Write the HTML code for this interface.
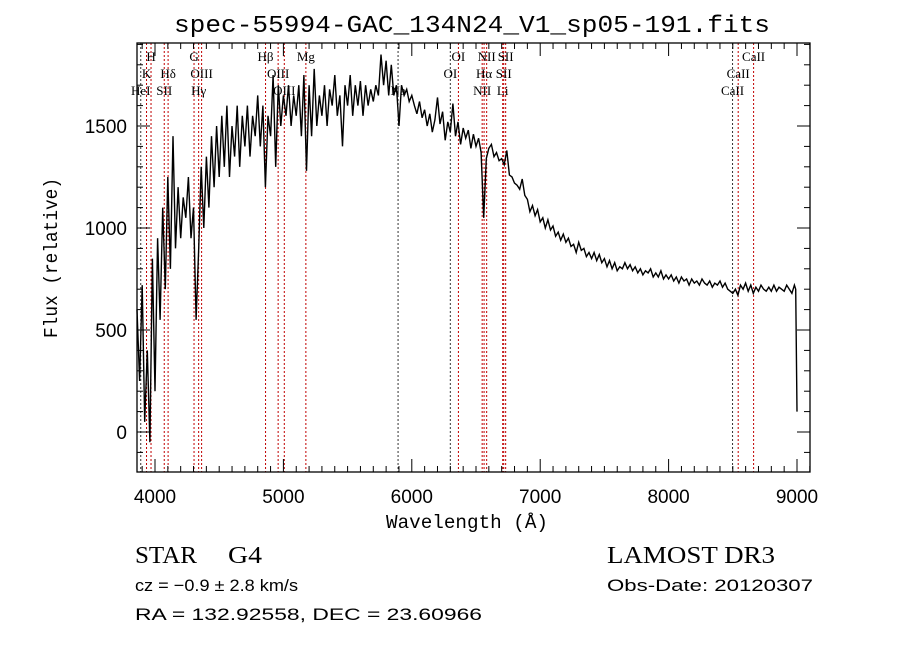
<!DOCTYPE html>
<html><head><meta charset="utf-8"><style>
html,body{margin:0;padding:0;background:#fff;width:900px;height:649px;overflow:hidden}
svg{display:block}
text{fill:#000}
.sans{font-family:"Liberation Sans",sans-serif}
.serif{font-family:"Liberation Serif",serif}
.mono{font-family:"Liberation Mono",monospace}
.lab{font-family:"Liberation Serif",serif;font-size:13px}
</style></head><body>
<svg id="chart" width="900" height="649" viewBox="0 0 900 649">
<text class="mono" x="472" y="32" font-size="24" text-anchor="middle" textLength="596" lengthAdjust="spacingAndGlyphs">spec-55994-GAC_134N24_V1_sp05-191.fits</text>
<g id="lines"></g>
<g id="labels"></g>
<g id="axes"></g>
<path id="spec" fill="none" stroke="#000" stroke-width="1.4" stroke-linejoin="miter"/>
<text class="mono" x="467" y="528" font-size="19" text-anchor="middle" textLength="162" lengthAdjust="spacingAndGlyphs">Wavelength (Å)</text>
<text class="mono" transform="translate(57,258) rotate(-90)" font-size="19" text-anchor="middle" textLength="160" lengthAdjust="spacingAndGlyphs">Flux (relative)</text>
<text class="serif" x="135" y="563" font-size="24" textLength="62" lengthAdjust="spacingAndGlyphs">STAR</text>
<text class="serif" x="228" y="563" font-size="24" textLength="34" lengthAdjust="spacingAndGlyphs">G4</text>
<text class="serif" x="607" y="563" font-size="24" textLength="168" lengthAdjust="spacingAndGlyphs">LAMOST DR3</text>
<text class="sans" x="135" y="591" font-size="17" textLength="163" lengthAdjust="spacingAndGlyphs">cz = −0.9 ± 2.8 km/s</text>
<text class="sans" x="607" y="591" font-size="17" textLength="206" lengthAdjust="spacingAndGlyphs">Obs-Date: 20120307</text>
<text class="sans" x="135" y="620" font-size="17" textLength="347" lengthAdjust="spacingAndGlyphs">RA = 132.92558, DEC =  23.60966</text>
</svg>
<script>
const wavelengths=[3860,3880,3900,3920,3940,3960,3980,4000,4020,4040,4060,4080,4100,4120,4140,4160,4180,4200,4220,4240,4260,4280,4300,4320,4340,4360,4380,4400,4420,4440,4460,4480,4500,4520,4540,4560,4580,4600,4620,4640,4660,4680,4700,4720,4740,4760,4780,4800,4820,4840,4860,4880,4900,4920,4940,4960,4980,5000,5020,5040,5060,5080,5100,5120,5140,5160,5180,5200,5220,5240,5260,5280,5300,5320,5340,5360,5380,5400,5420,5440,5460,5480,5500,5520,5540,5560,5580,5600,5620,5640,5660,5680,5700,5720,5740,5760,5780,5800,5820,5840,5860,5880,5900,5920,5940,5960,5980,6000,6020,6040,6060,6080,6100,6120,6140,6160,6180,6200,6220,6240,6260,6280,6300,6320,6340,6360,6380,6400,6420,6440,6460,6480,6500,6520,6540,6560,6580,6600,6620,6640,6660,6680,6700,6720,6740,6760,6780,6800,6820,6840,6860,6880,6900,6920,6940,6960,6980,7000,7020,7040,7060,7080,7100,7120,7140,7160,7180,7200,7220,7240,7260,7280,7300,7320,7340,7360,7380,7400,7420,7440,7460,7480,7500,7520,7540,7560,7580,7600,7620,7640,7660,7680,7700,7720,7740,7760,7780,7800,7820,7840,7860,7880,7900,7920,7940,7960,7980,8000,8020,8040,8060,8080,8100,8120,8140,8160,8180,8200,8220,8240,8260,8280,8300,8320,8340,8360,8380,8400,8420,8440,8460,8480,8500,8520,8540,8560,8580,8600,8620,8640,8660,8680,8700,8720,8740,8760,8780,8800,8820,8840,8860,8880,8900,8920,8940,8960,8980,8990,9000];
const fluxes=[600,250,720,50,400,-50,850,200,950,550,1100,700,1250,800,1450,900,1200,950,1150,1050,1250,950,1100,550,900,1300,1000,1350,1100,1450,1200,1500,1250,1550,1300,1600,1250,1500,1350,1600,1300,1550,1400,1600,1350,1550,1450,1650,1400,1600,1200,1550,1450,1750,1300,1700,1500,1650,1550,1700,1500,1650,1550,1700,1450,1750,1280,1700,1450,1780,1500,1650,1550,1700,1500,1680,1600,1750,1550,1650,1400,1700,1600,1750,1550,1700,1600,1720,1550,1700,1600,1680,1620,1700,1650,1850,1700,1820,1650,1800,1650,1700,1500,1700,1650,1680,1620,1650,
1600,1560,1620,1540,1580,1500,1560,1470,1530,1640,1510,1570,1430,1520,1470,1610,1450,1520,1410,1490,1440,1480,1390,1460,1400,1440,1370,1050,1340,1390,1410,1350,1370,1330,1340,1310,1380,1260,1250,1220,1210,1190,1240,1160,1140,1080,1110,1060,1090,1030,1050,1000,1040,990,1010,960,980,940,970,930,950,910,920,880,930,890,900,860,880,850,880,840,870,830,850,810,840,800,830,790,810,800,830,800,820,790,810,780,800,770,790,780,800,760,780,760,790,750,770,750,770,740,760,730,760,740,750,720,750,730,740,720,750,730,720,740,710,730,720,740,710,730,700,690,680,700,670,720,700,730,690,720,680,710,690,720,700,690,710,690,720,690,710,700,690,720,700,680,720,700,100];
const lineWaves=[3889,3934,3969,4072,4102,4304,4340,4363,4861,4959,5007,5175,5893,6300,6363,6548,6563,6583,6708,6716,6731,8498,8542,8662];
const lineLabels=["HeI","K","H","SII","Hδ","G","Hγ","OIII","Hβ","OIII","OIII","Mg","Na","OI","OI","NII","Hα","NII","Li","SII","SII","CaII","CaII","CaII"];
const labelRows=[3,2,1,3,2,1,3,2,1,2,3,1,3,2,1,3,2,1,3,2,1,3,2,1];
const xTicks=[4000,5000,6000,7000,8000,9000];
const yTicks=[0,500,1000,1500];
const X0=137,X1=810,Y0=43,Y1=472;
const xs=w=>155+(w-4000)*0.1284;
const ys=f=>432-f*0.204;
const NS='http://www.w3.org/2000/svg';
function mk(tag,attrs,parent){const e=document.createElementNS(NS,tag);for(const k in attrs)e.setAttribute(k,attrs[k]);parent.appendChild(e);return e;}
const gl=document.getElementById('lines'),glab=document.getElementById('labels'),ga=document.getElementById('axes');
lineWaves.forEach((w,i)=>{
  const black=(w===5893||w===6300||w===8498||w===3889);
  const l=mk('line',{x1:xs(w),x2:xs(w),y1:Y0,y2:Y1,stroke:black?'#333':'#c00000','stroke-width':1,'stroke-dasharray':'2,2'},gl);
  
  
  const t=mk('text',{x:xs(w),y:44+17*labelRows[i],'text-anchor':'middle',class:'lab'},glab);
  t.textContent=lineLabels[i];
  
  
});
const fr=mk('rect',{x:X0,y:Y0,width:X1-X0,height:Y1-Y0,fill:'none',stroke:'#000','stroke-width':1.3},ga);


for(let w=3900;w<=9100;w+=100){const x=xs(w);const len=(w%1000===0)?13:6;
  mk('line',{x1:x,x2:x,y1:Y1,y2:Y1-len,stroke:'#000'},ga);mk('line',{x1:x,x2:x,y1:Y0,y2:Y0+len,stroke:'#000'},ga);}
for(let f=-100;f<=1900;f+=100){const y=ys(f);const len=(f%500===0)?13:6;
  mk('line',{x1:X0,x2:X0+len,y1:y,y2:y,stroke:'#000'},ga);mk('line',{x1:X1,x2:X1-len,y1:y,y2:y,stroke:'#000'},ga);}
xTicks.forEach(w=>{const t=mk('text',{x:xs(w),y:503,'font-size':19,'text-anchor':'middle',class:'sans'},ga);t.textContent=w;
  
  });
yTicks.forEach(f=>{const t=mk('text',{x:127,y:ys(f)+7,'font-size':19,'text-anchor':'end',class:'sans'},ga);t.textContent=f;
  
  });
let d='';wavelengths.forEach((w,i)=>{d+=(i?'L':'M')+xs(w).toFixed(1)+','+ys(fluxes[i]).toFixed(1);});
document.getElementById('spec').setAttribute('d',d);
</script>
</body></html>
